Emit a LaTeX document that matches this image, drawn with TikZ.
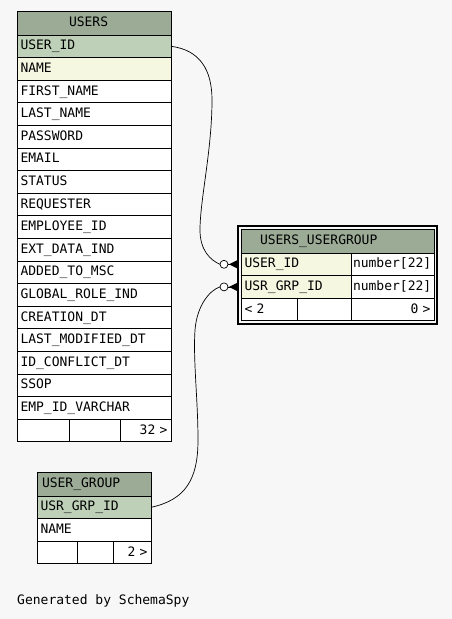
\documentclass[tikz,border=0pt]{standalone}
\usepackage{fontspec}
\setmonofont{DejaVu Sans Mono}
\usetikzlibrary{positioning}
\definecolor{hdrbg}{HTML}{9BAB96}
\definecolor{pkbg}{HTML}{BED1B8}
\definecolor{idxbg}{HTML}{F5F7E1}
\definecolor{pagebg}{HTML}{F7F7F7}

\begin{document}
\begin{tikzpicture}[
  x=1pt, y=-1pt,
  cell/.style={
    draw, line width=0.8pt, fill=white,
    minimum height=22.6pt,
    inner xsep=3.5pt, % left/right padding inside a column cell
    inner ysep=0pt, outer sep=0pt,
    text height=10pt, text depth=3pt,
    font=\ttfamily\fontsize{13}{15}\selectfont, align=left
  },
  hdr/.style={cell, fill=hdrbg, minimum height=24pt, anchor=north west},
  link/.style={line width=0.7pt},
  crow/.style={line width=0.7pt, fill=black}
]
\fill[pagebg] (0,0) rectangle (452,619);
\useasboundingbox (0,0) rectangle (452,619);

% --- USERS ---
\node[hdr, text width=50pt, inner xsep=52pt] (u0) at (17,11) {USERS};

\foreach \c [count=\i] in {USER\_ID, NAME, FIRST\_NAME, LAST\_NAME, PASSWORD, EMAIL, STATUS, REQUESTER, EMPLOYEE\_ID, EXT\_DATA\_IND, ADDED\_TO\_MSC, GLOBAL\_ROLE\_IND, CREATION\_DT, LAST\_MODIFIED\_DT, ID\_CONFLICT\_DT, SSOP, EMP\_ID\_VARCHAR} {%
  \ifnum\i=1
    \def\myfill{pkbg}%
  \else\ifnum\i=2
    \def\myfill{idxbg}%
  \else
    \def\myfill{white}%
  \fi\fi
  \node[cell, fill=\myfill, text width=147pt, below=0pt of u\the\numexpr\i-1\relax] (u\i) {\c};
}

\node[cell, text width=45pt, anchor=north west] (uf1) at (u17.south west) {};
\node[cell, text width=44pt, right=0pt of uf1] (uf2) {};
\node[cell, text width=44pt, align=right, right=0pt of uf2] (uf3) {32 >};

% --- USERS_USERGROUP ---
\node[hdr, text width=155pt, inner xsep=19pt] (ug0) at (241,229) {USERS\_USERGROUP};

\foreach \c [count=\i] in {USER\_ID, USR\_GRP\_ID} {
  \node[cell, fill=idxbg, text width=103pt, anchor=north west] (ug\i) at (ug\the\numexpr\i-1\relax.south west) {\c};
  \node[cell, text width=79pt, inner xsep=2pt, right=0pt of ug\i] (ugt\i) {number[22]};
}

\node[cell, text width=49pt, anchor=north west] (ugf1) at (ug2.south west) {< 2};
\node[cell, text width=47pt, right=0pt of ugf1] (ugf2) {};
\node[cell, text width=76pt, align=right, right=0pt of ugf2] (ugf3) {0 >};

\draw[line width=2.5pt] ([shift={(-3pt,3pt)}]ug0.north west) rectangle ([shift={(3pt,-3pt)}]ugf3.south east);

% --- USER_GROUP ---
\node[hdr, text width=104pt, inner xsep=5pt] (g0) at (37,472) {USER\_GROUP};
\node[cell, fill=pkbg, text width=107pt, below=0pt of g0] (g1) {USR\_GRP\_ID};
\node[cell, text width=107pt, below=0pt of g1] (g2) {NAME};

\node[cell, text width=33pt, anchor=north west] (gf1) at (g2.south west) {};
\node[cell, text width=29pt, right=0pt of gf1] (gf2) {};
\node[cell, text width=31pt, align=right, right=0pt of gf2] (gf3) {2 >};

% --- relationships ---
\coordinate (e1) at ([xshift=-21pt]ug1.west);
\coordinate (e2) at ([xshift=-21pt]ug2.west);

\draw[link] (u1.east) .. controls (200,50) and (212,70) .. (212,100)
  .. controls (212,150) and (200,200) .. (200,230)
  .. controls (200,250) and (210,260) .. (e1);
\draw[link] (g1.east) .. controls (185,500) and (198,480) .. (198,440)
  .. controls (198,400) and (193,360) .. (195,330)
  .. controls (197,305) and (210,290) .. (e2);

\foreach \r in {ug1, ug2} {
  \draw[link, fill=white] ([xshift=-17pt]\r.west) circle (4pt);
  \draw[link] ([xshift=-13pt]\r.west) -- ([xshift=-4pt]\r.west);
  \fill[crow] ([xshift=-12pt]\r.west) -- ([xshift=-4pt,yshift=4pt]\r.west) -- ([xshift=-4pt,yshift=-4pt]\r.west) -- cycle;
}

\node[anchor=west, inner sep=0pt, font=\ttfamily\fontsize{13}{15}\selectfont] (credit) at (17,601) {Generated by SchemaSpy};
\end{tikzpicture}
\end{document}
